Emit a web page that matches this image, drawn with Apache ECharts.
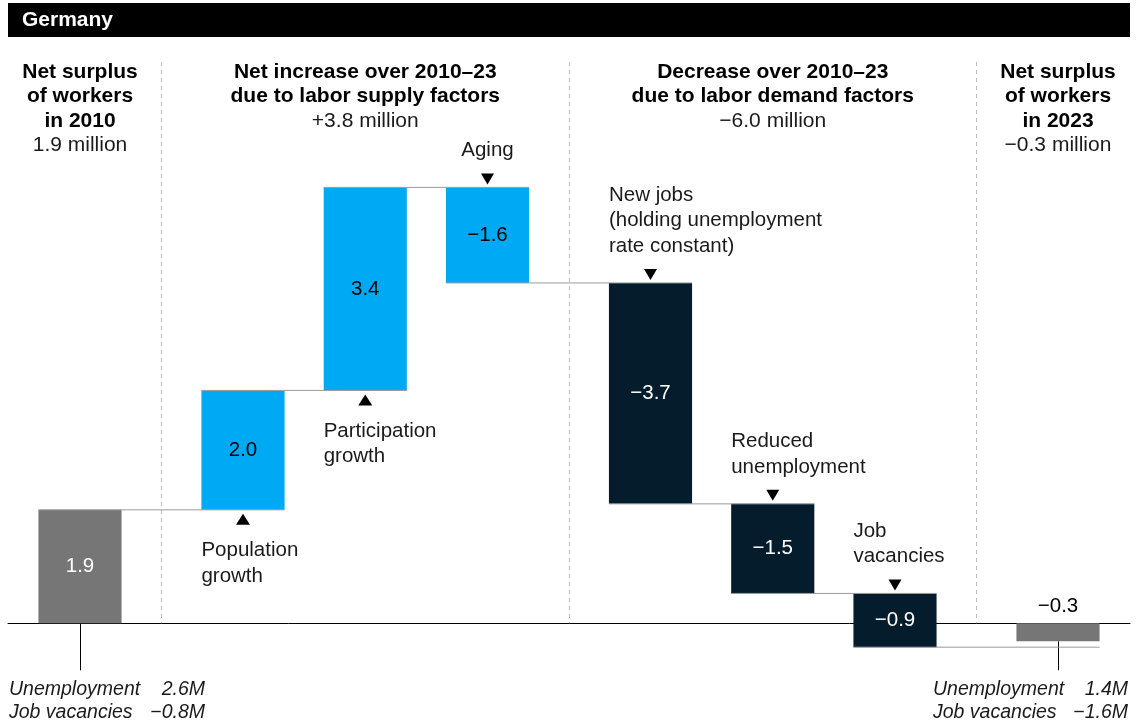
<!DOCTYPE html>
<html>
<head>
<meta charset="utf-8">
<script src="https://cdn.jsdelivr.net/npm/echarts@6/dist/echarts.min.js"></script>
<style>
  html, body { margin: 0; padding: 0; background: #fff; }
  #chart { width: 1145px; height: 726px; }
</style>
</head>
<body>
<div id="chart"></div>
<script>
// ---- data ----
const categories = ['Net surplus 2010', 'Population growth', 'Participation growth', 'Aging',
  'New jobs', 'Reduced unemployment', 'Job vacancies', 'Net surplus 2023'];
const values = [1.9, 2.0, 3.4, -1.6, -3.7, -1.5, -0.9, -0.3];
const kinds = ['total', 'supply', 'supply', 'supply', 'demand', 'demand', 'demand', 'total'];
const notes = ['', 'Population\ngrowth', 'Participation\ngrowth', 'Aging',
  'New jobs\n(holding unemployment\nrate constant)', 'Reduced\nunemployment', 'Job\nvacancies', ''];
const headerTitles = [
  'Net surplus\nof workers\nin 2010',
  'Net increase over 2010\u201323\ndue to labor supply factors',
  'Decrease over 2010\u201323\ndue to labor demand factors',
  'Net surplus\nof workers\nin 2023'
];
const headerTotals = ['1.9 million', '+3.8 million', '\u22126.0 million', '\u22120.3 million'];
const footLeft = [['Unemployment', '2.6M'], ['Job vacancies', '\u22120.8M']];
const footRight = [['Unemployment', '1.4M'], ['Job vacancies', '\u22121.6M']];
const title = 'Germany';

// ---- layout ----
const slots = [0, 4, 7, 10, 14, 17, 20, 24];     // bar centres along the x scale
const headerSlots = [0, 7, 17, 24];
const separatorSlots = [2, 12, 22];
const noteAlign = ['left', 'left', 'left', 'center', 'left', 'left', 'left', 'left'];
const BAR_SLOTS = 2.04;
const X_MIN = -1.767, X_MAX = 25.767;
const Y_MIN = -1, Y_MAX = 9.4;
const STEM_END = -0.787;
const FONT = '"Liberation Sans", Arial, sans-serif';
const COLORS = { total: '#767676', supply: '#00a9f4', demand: '#051c2c' };
const VALUE_COLORS = { total: '#ffffff', supply: '#000000', demand: '#ffffff' };

function fmt(v) {
  return (v < 0 ? '\u2212' : '') + Math.abs(v).toFixed(1);
}

// running totals for the waterfall
const bars = [];
let running = 0;
values.forEach((v, i) => {
  let start, end;
  if (kinds[i] === 'total') { start = 0; end = v; }
  else { start = running; end = running + v; }
  running = end;
  bars.push([slots[i], start, end]);
});

function renderItem(params, api) {
  const i = params.dataIndex;
  const slot = api.value(0), start = api.value(1), end = api.value(2);
  const v = values[i];
  const pS = api.coord([slot, start]);
  const pE = api.coord([slot, end]);
  const w = api.size([BAR_SLOTS, 0])[0];
  const cx = pS[0];
  const top = Math.min(pS[1], pE[1]);
  const bottom = Math.max(pS[1], pE[1]);
  const left = cx - w / 2;
  const children = [];

  children.push({
    type: 'rect',
    shape: { x: left, y: top, width: w, height: bottom - top },
    style: { fill: COLORS[kinds[i]] }
  });

  // connector to the next bar
  if (i < values.length - 1) {
    const pN = api.coord([slots[i + 1], end]);
    children.push({
      type: 'line', z2: 5,
      shape: { x1: left, y1: pE[1], x2: pN[0] + w / 2, y2: pE[1] },
      style: { stroke: '#9a9a9a', lineWidth: 1 }
    });
  }

  // value label
  const last = i === values.length - 1;
  children.push({
    type: 'text', z2: 10,
    style: {
      text: fmt(v),
      x: cx,
      y: last ? pS[1] - 17 : (top + bottom) / 2,
      align: 'center', verticalAlign: 'middle',
      fontFamily: FONT, fontSize: 20.5,
      fill: last ? '#000' : VALUE_COLORS[kinds[i]]
    }
  });

  // marker triangle and note
  if (notes[i]) {
    const tx = noteAlign[i] === 'center' ? cx : left;
    if (v > 0) {
      children.push({
        type: 'polygon',
        shape: { points: [[cx, bottom + 4], [cx - 7, bottom + 15], [cx + 7, bottom + 15]] },
        style: { fill: '#000' }
      });
      children.push({
        type: 'text',
        style: {
          text: notes[i], x: tx, y: bottom + 28,
          align: noteAlign[i], verticalAlign: 'top',
          fontFamily: FONT, fontSize: 20.5, lineHeight: 25.5, fill: '#1a1a1a'
        }
      });
    } else {
      children.push({
        type: 'polygon',
        shape: { points: [[cx, top - 3], [cx - 6.5, top - 14], [cx + 6.5, top - 14]] },
        style: { fill: '#000' }
      });
      children.push({
        type: 'text',
        style: {
          text: notes[i], x: tx, y: top - 24,
          align: noteAlign[i], verticalAlign: 'bottom',
          fontFamily: FONT, fontSize: 20.5, lineHeight: 25.5, fill: '#1a1a1a'
        }
      });
    }
  }
  return { type: 'group', children };
}

const separatorLines = separatorSlots.map(s => [
  { coord: [s, Y_MAX], lineStyle: { color: '#bdbdbd', type: [4, 4], width: 1 } },
  { coord: [s, 0] }
]);
const stemLines = [
  [{ coord: [slots[0], 0], lineStyle: { color: '#000', type: 'solid', width: 1 } },
   { coord: [slots[0], STEM_END] }],
  [{ coord: [slots[slots.length - 1], values[values.length - 1]], lineStyle: { color: '#000', type: 'solid', width: 1 } },
   { coord: [slots[slots.length - 1], STEM_END] }]
];

const chart = echarts.init(document.getElementById('chart'), null, { renderer: 'canvas' });

chart.setOption({
  animation: false,
  backgroundColor: '#fff',
  grid: { left: 8, right: 15, top: 62, bottom: 43 },
  xAxis: {
    type: 'value', min: X_MIN, max: X_MAX,
    axisLine: { show: true, onZero: true, lineStyle: { color: '#000', width: 1 } },
    axisTick: { show: false }, axisLabel: { show: false }, splitLine: { show: false }
  },
  yAxis: {
    type: 'value', min: Y_MIN, max: Y_MAX, show: false, splitLine: { show: false }
  },
  series: [{
    type: 'custom',
    name: 'Net surplus of workers',
    renderItem: renderItem,
    data: bars,
    clip: false,
    z: 3,
    markLine: {
      silent: true, symbol: 'none', label: { show: false }, z: 1,
      data: separatorLines.concat(stemLines)
    }
  }]
});

// headings, title band and footers
const graphics = [
  { type: 'rect', shape: { x: 8, y: 3, width: 1122, height: 34 }, style: { fill: '#000' } },
  { type: 'text', style: { text: title, x: 22, y: 20, verticalAlign: 'middle',
      fontFamily: FONT, fontSize: 21, fontWeight: 'bold', fill: '#fff' } }
];
const LH = 24.4;
headerSlots.forEach((s, k) => {
  const x = chart.convertToPixel({ xAxisIndex: 0 }, s);
  const nLines = headerTitles[k].split('\n').length;
  graphics.push({ type: 'text', style: {
    text: headerTitles[k], x: x, y: 72 - LH / 2, align: 'center', verticalAlign: 'top',
    fontFamily: FONT, fontSize: 21, fontWeight: 'bold', lineHeight: LH, fill: '#000' } });
  graphics.push({ type: 'text', style: {
    text: headerTotals[k], x: x, y: 72 + nLines * LH, align: 'center', verticalAlign: 'middle',
    fontFamily: FONT, fontSize: 21, fill: '#1a1a1a' } });
});
function footer(rows, xLabel, xValue) {
  rows.forEach((r, k) => {
    const y = 690 + k * 23;
    graphics.push({ type: 'text', style: { text: r[0], x: xLabel, y: y, verticalAlign: 'middle',
      fontFamily: FONT, fontSize: 19.5, fontStyle: 'italic', fill: '#1a1a1a' } });
    graphics.push({ type: 'text', style: { text: r[1], x: xValue, y: y, align: 'right', verticalAlign: 'middle',
      fontFamily: FONT, fontSize: 19.5, fontStyle: 'italic', fill: '#1a1a1a' } });
  });
}
footer(footLeft, 9, 205);
footer(footRight, 933, 1128);
chart.setOption({ graphic: graphics });
</script>
</body>
</html>
